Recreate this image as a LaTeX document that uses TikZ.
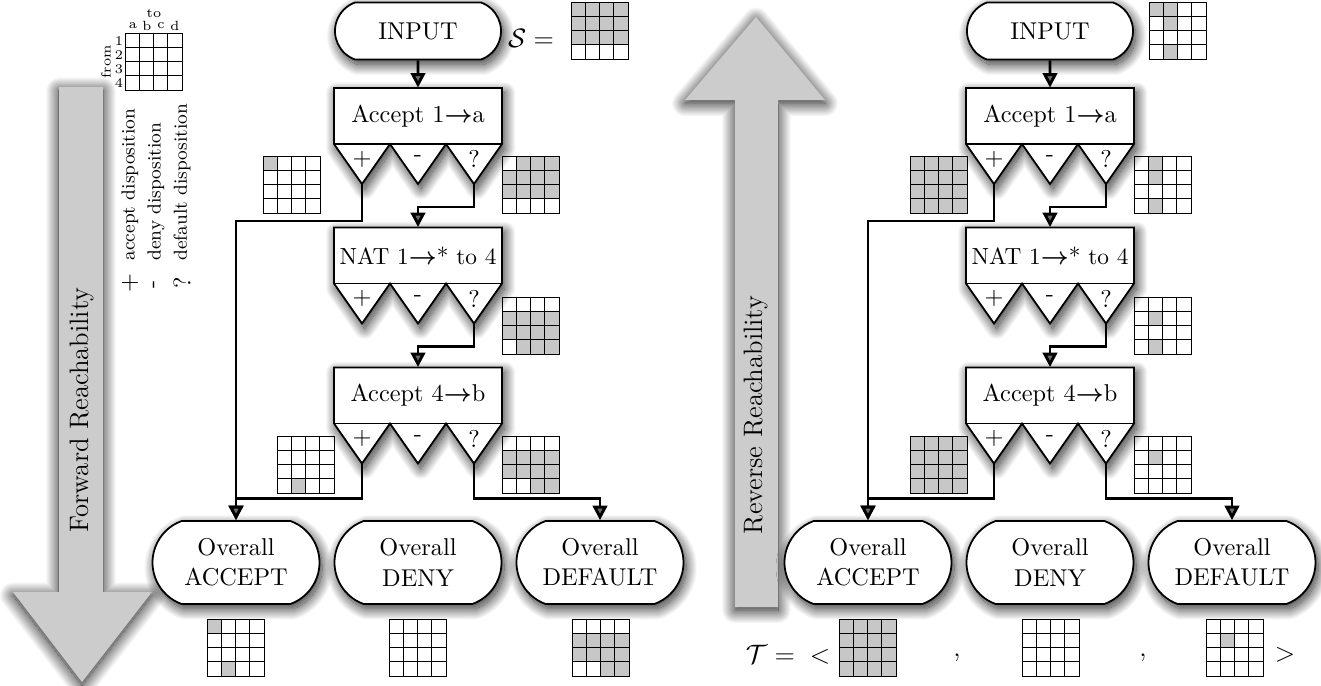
\documentclass[tikz,11pt,border=0pt]{standalone}
\usepackage{amsmath}
\usetikzlibrary{arrows.meta,calc,shapes.misc,shadows.blur}

\tikzset{
  flow/.style={line width=1.3pt,-{Triangle[length=6.5pt,width=6.5pt]}},
  boxshadow/.style={blur shadow={shadow xshift=1.2pt,shadow yshift=-2.2pt,shadow blur radius=5pt,shadow blur steps=30,shadow opacity=85}},
  terminal/.style={rounded rectangle,rounded rectangle arc length=140,draw,line width=0.8pt,fill=white,boxshadow,align=center,inner sep=0pt},
  outcome/.style={minimum width=75.15pt,minimum height=37.35pt},
  rulebox/.style={minimum width=75.6pt,minimum height=25.2pt,inner sep=0pt},
  blockline/.style={draw,line width=0.8pt,fill=white},
  gridbox/.style={minimum size=25.2pt,inner sep=0pt},
  gridline/.style={line width=0.75pt},
  cellgrey/.style={fill=black!22},
  bigarrow/.style={fill=black!20,blur shadow={shadow xshift=0pt,shadow yshift=-1.5pt,shadow blur radius=6pt,shadow blur steps=30,shadow opacity=95}},
  keysmall/.style={font=\tiny,inner sep=0.5pt},
  keytext/.style={font=\fontsize{8.5}{10}\selectfont,inner sep=0pt}
}

% rule box with its three disposition triangles (+ - ?)
\newcommand{\ruleblock}[4]{%
  \draw[blockline,boxshadow] ({#2-84},{#3-28}) -- ({#2+84},{#3-28}) -- ({#2+84},{#3+28})
    -- ({#2+56},{#3+68}) -- ({#2+28},{#3+28}) -- ({#2},{#3+68}) -- ({#2-28},{#3+28})
    -- ({#2-56},{#3+68}) -- ({#2-84},{#3+28}) -- cycle;
  \draw[line width=0.8pt] ({#2-84},{#3+28}) -- ({#2+84},{#3+28});
  \node[rulebox] (#1) at (#2,#3) {#4};
  \node (#1-p) at ({#2-56},{#3+43}) {$+$};
  \node (#1-m) at ({#2},{#3+43}) {-};
  \node (#1-q) at ({#2+56},{#3+43}) {?};
  \coordinate (#1-acc) at ({#2-56},{#3+68});
  \coordinate (#1-def) at ({#2+56},{#3+68});
}

% 4x4 from/to grid, grey cells given as row/col (0/0 = none)
\newcommand{\cellgrid}[4]{%
  \node[gridbox] (#1) at (#2,#3) {};
  \foreach \rw/\cl in {#4} {\ifnum\rw>0 \fill[cellgrey] ($(#1.north west)+({14*(\cl-1)},{14*(\rw-1)})$) rectangle ++(14,14);\fi}
  \foreach \k in {1,2,3} {
    \draw[gridline] ($(#1.north west)+(14*\k,0)$) -- ++(0,56);
    \draw[gridline] ($(#1.north west)+(0,14*\k)$) -- ++(56,0);
  }
  \draw[gridline] (#1.north west) rectangle (#1.south east);
}

\newcommand{\arr}{$\boldsymbol{\rightarrow}$}

\begin{document}
\begin{tikzpicture}[x=0.45pt,y=-0.45pt]
\useasboundingbox (0,0) rectangle (1321,685);

% Big reachability arrows
\path[bigarrow] (59,87) -- (103,87) -- (103,592) -- (152,592) -- (82,682) -- (13,592) -- (59,592) -- cycle;
\node[rotate=90,font=\large] (fwd) at (82,410) {Forward Reachability};
\path[bigarrow] (735,607) -- (778,607) -- (778,100) -- (825,100) -- (756,17) -- (685,100) -- (735,100) -- cycle;
\node[rotate=90,font=\large] (rev) at (756,415) {Reverse Reachability};

% Key
\node[keysmall] (to) at (154,13) {to};
\foreach \c/\l in {1/a,2/b,3/c,4/d} \node[keysmall] (col-\l) at ({119+14*\c},26) {\l};
\foreach \rw in {1,...,4} \node[keysmall] (row-\rw) at (119,{27+14*\rw}) {\rw};
\node[keysmall,rotate=90] (from) at (106,62) {from};
\cellgrid{g-key}{154}{62}{0/0}
\node[rotate=90] (s-acc) at (130,283) {$+$};
\node[rotate=90] (s-den) at (156,284) {-};
\node[rotate=90] (s-def) at (182,283) {?};
\node[keytext,rotate=90,anchor=west] (k-acc) at (130,261) {accept disposition};
\node[keytext,rotate=90,anchor=west] (k-den) at (156,261) {deny disposition};
\node[keytext,rotate=90,anchor=west] (k-def) at (182,261) {default disposition};

% The two flowcharts (F = forward, R = reverse)
\foreach \side/\dx in {F/0,R/632} {
\begin{scope}[shift={(\dx,0)},name prefix=\side-]
  \node[terminal,minimum width=74.7pt,minimum height=25.65pt] (input) at (418,31) {INPUT};
  \ruleblock{r1}{418}{116}{Accept 1\arr a}
  \ruleblock{r2}{418}{255.5}{\fontsize{10.5}{12}\selectfont NAT 1\arr* to 4}
  \ruleblock{r3}{418}{395.5}{Accept 4\arr b}
  \node[terminal,outcome] (acc) at (236,562.5) {Overall\\ACCEPT};
  \node[terminal,outcome] (deny) at (418,562.5) {Overall\\DENY};
  \node[terminal,outcome] (dflt) at (600,562.5) {Overall\\DEFAULT};
  \draw[flow] (input) -- (r1);
  \draw[flow] (r1-def) -- ++(0,23) -| (r2.north);
  \draw[flow] (r2-def) -- ++(0,23) -| (r3.north);
  \draw[flow] (r1-acc) -- ++(0,37) -| (acc.north);
  \draw[flow] (r3-acc) -- ++(0,35) -| (acc.north);
  \draw[flow] (r3-def) -- ++(0,35) -| (dflt.north);
\end{scope}
}

% Forward grids
\node[font=\large] (s-lbl) at (531,38) {$\mathcal{S} =$};
\cellgrid{F-gin}{600}{31}{1/1,1/2,1/3,1/4,2/1,2/2,2/3,2/4,3/1,3/2,3/3,3/4}
\cellgrid{F-g1a}{292}{185}{1/1}
\cellgrid{F-g1d}{531}{185}{1/2,1/3,1/4,2/1,2/2,2/3,2/4,3/1,3/2,3/3,3/4}
\cellgrid{F-g2d}{531}{326}{2/1,2/2,2/3,2/4,3/1,3/2,3/3,3/4,4/2,4/3,4/4}
\cellgrid{F-g3a}{306}{465}{4/2}
\cellgrid{F-g3d}{531}{465}{2/1,2/2,2/3,2/4,3/1,3/2,3/3,3/4,4/3,4/4}
\cellgrid{F-gacc}{236}{648}{1/1,4/2}
\cellgrid{F-gden}{418}{648}{0/0}
\cellgrid{F-gdef}{601}{648}{2/1,2/2,2/3,2/4,3/1,3/2,3/3,3/4,4/3,4/4}

% Reverse grids
\cellgrid{R-gin}{1178}{31}{1/1,1/2,2/2,4/2}
\cellgrid{R-g1a}{939}{185}{1/1,1/2,1/3,1/4,2/1,2/2,2/3,2/4,3/1,3/2,3/3,3/4,4/1,4/2,4/3,4/4}
\cellgrid{R-g1d}{1163}{185}{1/2,2/2,4/2}
\cellgrid{R-g2d}{1163}{326}{2/2,4/2}
\cellgrid{R-g3a}{939}{465}{1/1,1/2,1/3,1/4,2/1,2/2,2/3,2/4,3/1,3/2,3/3,3/4,4/1,4/2,4/3,4/4}
\cellgrid{R-g3d}{1163}{465}{2/2}
\cellgrid{R-gacc}{868}{648}{1/1,1/2,1/3,1/4,2/1,2/2,2/3,2/4,3/1,3/2,3/3,3/4,4/1,4/2,4/3,4/4}
\cellgrid{R-gden}{1051}{648}{0/0}
\cellgrid{R-gdef}{1235}{648}{2/2}
\node[font=\large] (t-lbl) at (788,655) {$\mathcal{T} = {}<$};
\node[font=\large] (t-c1) at (957,658) {,};
\node[font=\large] (t-c2) at (1143,658) {,};
\node[font=\large] (t-end) at (1285,655) {$>$};

\end{tikzpicture}
\end{document}
